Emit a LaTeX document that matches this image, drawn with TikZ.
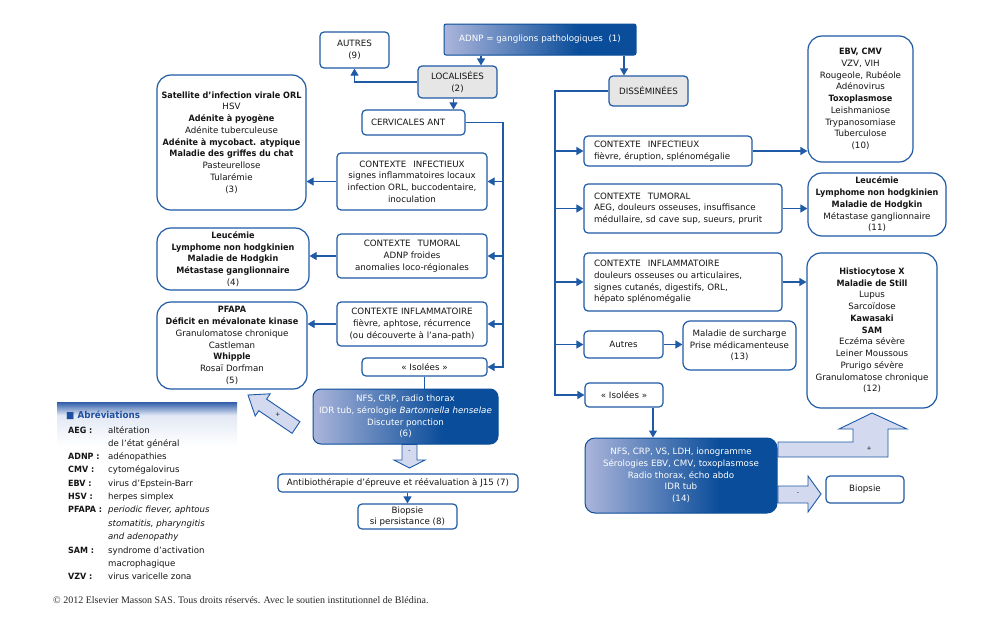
\documentclass[tikz,border=0pt]{standalone}
\usepackage{fontspec}
\setmainfont{DejaVu Sans}[BoldFeatures={FakeStretch=0.93}]
\newfontfamily\copyfont{Liberation Serif}
\usetikzlibrary{arrows.meta}
\definecolor{bl}{HTML}{1F5AA6}
\definecolor{gl}{HTML}{ABB5DB}
\definecolor{gd}{HTML}{0A4D9A}
\definecolor{grayf}{HTML}{E6E6E6}
\definecolor{arrf}{HTML}{D3D9EE}
\definecolor{txt}{HTML}{151515}
\definecolor{lg1}{HTML}{E2E8F4}
\definecolor{lg2}{HTML}{2E5CA8}
\definecolor{legblue}{HTML}{1F4FA0}
\pgfdeclarehorizontalshading{myshade}{100bp}{color(0bp)=(gl); color(25bp)=(gl); color(60bp)=(gd); color(100bp)=(gd)}
\pgfdeclareverticalshading{legshade}{100bp}{color(0bp)=(white); color(25bp)=(white); color(60bp)=(lg1); color(75bp)=(lg2); color(100bp)=(lg2)}
\tikzset{
 base/.style={font=\fontsize{8.7}{11.75}\selectfont, text=txt, align=center, inner sep=0pt},
 sbox/.style={base, draw=bl, line width=1.2pt, rounded corners=4pt, fill=white},
 gbox/.style={sbox, fill=grayf},
 rbox/.style={base, draw=bl, line width=1.2pt, rounded corners=14pt, fill=white},
 lbox/.style={sbox, align=left, inner xsep=10pt},
 shbox/.style={base, text=white, rounded corners=8pt, shade, shading=myshade, draw=gd, line width=1pt},
 conn/.style={draw=bl, line width=1.2pt},
 arr/.style={conn, -{Triangle[length=7pt,width=8pt]}},
 barrow/.style={draw=bl, fill=arrf, line width=0.9pt, line join=miter},
 tinylab/.style={font=\fontsize{6}{6}\selectfont, text=txt, inner sep=0pt},
 legk/.style={font=\fontsize{8.6}{10}\selectfont\bfseries, text=txt, inner sep=0pt, anchor=base west},
 legv/.style={font=\fontsize{8.6}{10}\selectfont, text=txt, inner sep=0pt, anchor=base west},
}
\begin{document}
\begin{tikzpicture}[x=1pt,y=-1pt]
\useasboundingbox (0,0) rectangle (1000,632);
\fill[white] (0,0) rectangle (1000,632);

% ---------- block arrows (drawn first, boxes cover their ends) ----------
\draw[barrow] (299.9,421.7) -- (266.6,399.1) -- (270.2,393.8) -- (248,395) -- (255.2,416.0) -- (258.8,410.7) -- (292.1,433.3) -- cycle;
\node[tinylab] (plusl) at (278,415) {+};
\draw[barrow] (402,444.5) -- (402,460) -- (394,460) -- (409.5,468) -- (425,460) -- (417,460) -- (417,444.5) -- cycle;
\node[tinylab] (minusl) at (409.5,452) {-};
\draw[barrow] (778,442) -- (853,442) -- (853,429) -- (839,429) -- (872,413) -- (907,429) -- (888,429) -- (888,457) -- (778,457) -- cycle;
\node[tinylab] (plusr) at (869,449) {+};
\draw[barrow] (778,486) -- (808,486) -- (808,476) -- (821,494) -- (808,512) -- (808,503) -- (778,503) -- cycle;
\node[tinylab] (minusr) at (798,494) {-};

% ---------- left part ----------
\node[shbox, minimum width=192pt, minimum height=31pt, rounded corners=2pt] (adnp) at (540,39.5) {ADNP = ganglions pathologiques\ \ (1)};
\node[sbox, minimum width=69pt, minimum height=36pt] (autres) at (354.5,50) {AUTRES\\(9)};
\node[gbox, minimum width=79pt, minimum height=32pt] (loc) at (457.5,82) {LOCALISÉES\\(2)};
\node[lbox, text width=85pt, inner xsep=9pt, minimum height=25pt] (cerv) at (413.5,122.5) {CERVICALES ANT};
\node[sbox, minimum width=150pt, minimum height=57pt] (lci) at (412,181.5) {CONTEXTE\hspace{7pt}INFECTIEUX\\signes inflammatoires locaux\\infection ORL, buccodentaire,\\inoculation};
\node[sbox, minimum width=150pt, minimum height=44pt] (lct) at (412,256) {CONTEXTE\hspace{7pt}TUMORAL\\ADNP froides\\anomalies loco-régionales};
\node[sbox, minimum width=150pt, minimum height=44pt] (lcinf) at (412,324) {CONTEXTE INFLAMMATOIRE\\fièvre, aphtose, récurrence\\(ou découverte à l’ana-path)};
\node[sbox, minimum width=125pt, minimum height=18pt] (liso) at (424.5,367) {« Isolées »};

\node[rbox, minimum width=149pt, minimum height=135pt] (b3) at (231.5,142.5) {\textbf{Satellite d’infection virale ORL}\\HSV\\\textbf{Adénite à pyogène}\\Adénite tuberculeuse\\\textbf{Adénite à mycobact. atypique}\\\textbf{Maladie des griffes du chat}\\Pasteurellose\\Tularémie\\(3)};
\node[rbox, minimum width=152pt, minimum height=62pt] (b4) at (233,259) {\textbf{Leucémie}\\\textbf{Lymphome non hodgkinien}\\\textbf{Maladie de Hodgkin}\\\textbf{Métastase ganglionnaire}\\(4)};
\node[rbox, minimum width=150pt, minimum height=87pt] (b5) at (232,345.5) {\textbf{PFAPA}\\\textbf{Déficit en mévalonate kinase}\\Granulomatose chronique\\Castleman\\\textbf{Whipple}\\Rosaï Dorfman\\(5)};

\node[shbox, minimum width=185pt, minimum height=55pt] (nfs6) at (405.5,416.5) {NFS, CRP, radio thorax\\IDR tub, sérologie \textit{Bartonnella henselae}\\Discuter ponction\\(6)};
\node[sbox, minimum width=240pt, minimum height=18pt] (ab7) at (398,483) {Antibiothérapie d’épreuve et réévaluation à J15 (7)};
\node[sbox, minimum width=99pt, minimum height=25pt] (bio8) at (407.5,516.5) {Biopsie\\si persistance (8)};

% ---------- right part ----------
\node[gbox, minimum width=79pt, minimum height=30pt] (diss) at (648.5,91) {DISSÉMINÉES};
\node[lbox, text width=148pt, minimum height=30pt] (rci) at (668,151) {CONTEXTE\hspace{7pt}INFECTIEUX\\fièvre, éruption, splénomégalie};
\node[lbox, text width=178pt, minimum height=49pt] (rct) at (683,208.5) {CONTEXTE\hspace{7pt}TUMORAL\\AEG, douleurs osseuses, insuffisance\\médullaire, sd cave sup, sueurs, prurit};
\node[lbox, text width=178pt, minimum height=58pt] (rcinf) at (683,282) {CONTEXTE\hspace{7pt}INFLAMMATOIRE\\douleurs osseuses ou articulaires,\\signes cutanés, digestifs, ORL,\\hépato splénomégalie};
\node[sbox, minimum width=79pt, minimum height=27pt] (raut) at (623.5,344.5) {Autres};
\node[sbox, minimum width=78pt, minimum height=24pt] (riso) at (624,395) {« Isolées »};

\node[rbox, minimum width=105pt, minimum height=126pt] (b10) at (860.5,99) {\textbf{EBV, CMV}\\VZV, VIH\\Rougeole, Rubéole\\Adénovirus\\\textbf{Toxoplasmose}\\Leishmaniose\\Trypanosomiase\\Tuberculose\\(10)};
\node[rbox, minimum width=138pt, minimum height=63pt] (b11) at (877,204.5) {\textbf{Leucémie}\\\textbf{Lymphome non hodgkinien}\\\textbf{Maladie de Hodgkin}\\Métastase ganglionnaire\\(11)};
\node[rbox, minimum width=130pt, minimum height=155pt] (b12) at (872,330.5) {\textbf{Histiocytose X}\\\textbf{Maladie de Still}\\Lupus\\Sarcoïdose\\\textbf{Kawasaki}\\\textbf{SAM}\\Eczéma sévère\\Leiner Moussous\\Prurigo sévère\\Granulomatose chronique\\(12)};
\node[sbox, rounded corners=7pt, minimum width=113pt, minimum height=49pt] (b13) at (739.5,345.5) {Maladie de surcharge\\Prise médicamenteuse\\(13)};
\node[shbox, rounded corners=10pt, minimum width=192pt, minimum height=75pt] (nfs14) at (681,475.5) {NFS, CRP, VS, LDH, ionogramme\\Sérologies EBV, CMV, toxoplasmose\\Radio thorax, écho abdo\\IDR tub\\(14)};
\node[sbox, minimum width=78pt, minimum height=27pt] (biop) at (865,489.5) {Biopsie};

% ---------- connectors ----------
\draw[arr] ([xshift=23.5pt]loc.north |- adnp.south) -- ([xshift=23.5pt]loc.north);
\draw[arr] ([xshift=-24.5pt]diss.north |- adnp.south) -- ([xshift=-24.5pt]diss.north);
\draw[arr] (loc.west) -| (autres.south);
\draw[arr] ([xshift=-4pt]loc.south) -- ([xshift=-4pt]loc.south |- cerv.north);
\coordinate (lt) at (503,367);
\draw[arr] (cerv.east) -| (lt) -- (liso.east);
\foreach \n in {lci,lct,lcinf} \draw[arr] (\n.east -| lt) -- (\n.east);
\draw[arr] (lci.west) -- (lci.west -| b3.east);
\draw[arr] (lct.west) -- (lct.west -| b4.east);
\draw[arr] (lcinf.west) -- (lcinf.west -| b5.east);
\draw[conn] (liso.south) -- (liso.south |- nfs6.north);
\draw[arr] (bio8.north |- ab7.south) -- (bio8.north);

\coordinate (rt) at (555,395);
\draw[arr] (diss.west) -| (rt) -- (riso.west);
\foreach \n in {rci,rct,rcinf,raut} \draw[arr] (\n.west -| rt) -- (\n.west);
\draw[arr] (rci.east) -- (rci.east -| b10.west);
\draw[arr] (rct.east) -- (rct.east -| b11.west);
\draw[arr] (rcinf.east) -- (rcinf.east -| b12.west);
\draw[arr] (raut.east) -- (raut.east -| b13.west);
\draw[arr] ([xshift=29pt]riso.south) -- ([xshift=29pt]riso.south |- nfs14.north);

% ---------- legend ----------
\shade[shading=legshade] (57,402) rectangle (237,446);
\node[font=\fontsize{9.4}{11}\selectfont\bfseries, text=legblue, inner sep=0pt, anchor=base west] (legt) at (66,418.5) {■ Abréviations};
\foreach \k/\v/\y [count=\i] in {AEG :/altération/433, /de l’état général/446, ADNP :/adénopathies/459.7, CMV :/cytomégalovirus/472.7, EBV :/virus d’Epstein-Barr/486, HSV :/herpes simplex/499, SAM :/syndrome d’activation/553, /macrophagique/566, VZV :/virus varicelle zona/579}{
  \node[legk] (k\i) at (68,\y) {\k};
  \node[legv] (v\i) at (108,\y) {\v};
}
\node[legk] (kp) at (68,512.7) {PFAPA :};
\node[legv] (vp1) at (108,512.7) {\itshape periodic fiever, aphtous};
\node[legv] (vp2) at (108,526) {\itshape stomatitis, pharyngitis};
\node[legv] (vp3) at (108,539) {\itshape and adenopathy};

% ---------- copyright ----------
\node[anchor=west, inner sep=0pt, font=\copyfont\fontsize{10}{11}\selectfont, text=black!85] (copy) at (53,600) {© 2012 Elsevier Masson SAS. Tous droits réservés. Avec le soutien institutionnel de Blédina.};
\end{tikzpicture}
\end{document}
